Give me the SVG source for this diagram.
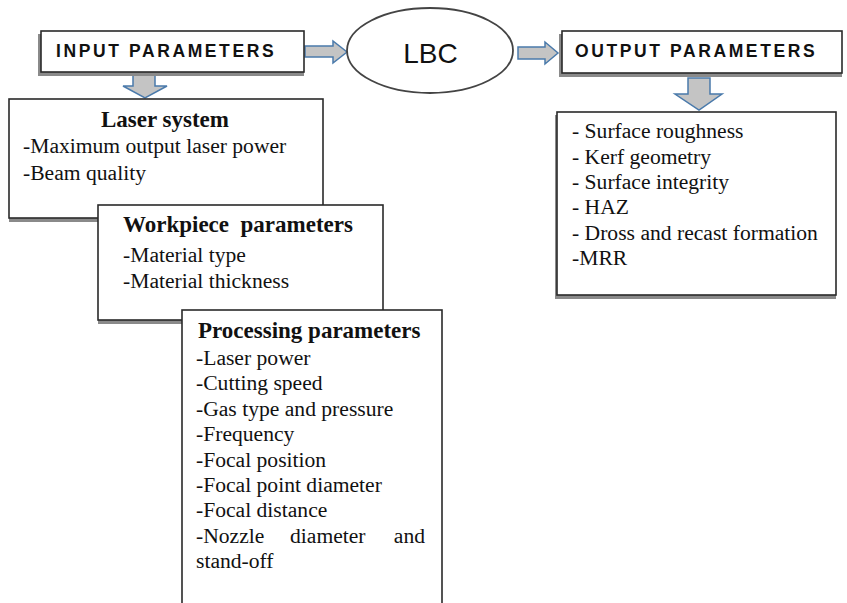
<svg xmlns="http://www.w3.org/2000/svg" width="847" height="603" viewBox="0 0 847 603">
<style>
.box{fill:#fff;stroke:#2a2a2a;stroke-width:1.6}
.sh{fill:#8a8a8a}
.arr{fill:#c4c4c4;stroke:#4a7aab;stroke-width:1.5;stroke-linejoin:miter}
.hd{font-family:"Liberation Sans",Arial,sans-serif;font-weight:bold;font-size:17.5px;letter-spacing:2.6px;fill:#111}
.t{font-family:"Liberation Serif","Times New Roman",serif;font-size:21.6px;fill:#111}
.tb{font-family:"Liberation Serif","Times New Roman",serif;font-size:23px;font-weight:bold;fill:#111}
</style>
<rect width="847" height="603" fill="#fff"/>
<g id="connectors">
<path class="arr" d="M305,46 H333 V41 L347,52 L333,63 V57 H305 Z"/>
<path class="arr" d="M518,47 H545 V42 L558,53 L545,64 V59 H518 Z"/>
<path class="arr" d="M133,74 H155 V86 H167 L145,98 L123,86 H133 Z"/>
<path class="arr" d="M688,78 H710 V94 H722 L699,110 L675,94 H688 Z"/>
</g>
<g id="input-parameters">
<rect class="sh" x="38" y="34" width="266" height="42"/>
<rect class="box" x="41" y="31" width="263" height="41"/>
<text class="hd" x="56" y="57">INPUT PARAMETERS</text>
</g>
<g id="lbc">
<ellipse cx="430" cy="50.5" rx="83" ry="42.5" fill="#fff" stroke="#444" stroke-width="1.8"/>
<text x="430.5" y="63" text-anchor="middle" font-family="'Liberation Sans',Arial,sans-serif" font-size="28" fill="#111">LBC</text>
</g>
<g id="output-parameters">
<rect class="sh" x="559" y="34" width="283" height="43"/>
<rect class="box" x="562" y="31" width="280" height="42"/>
<text class="hd" x="575" y="57">OUTPUT PARAMETERS</text>
</g>
<g id="laser-system">
<rect class="sh" x="9" y="102" width="314" height="120"/>
<rect class="box" x="9" y="99" width="314" height="119"/>
<text class="tb" x="165" y="127" text-anchor="middle">Laser system</text>
<text class="t" x="23" y="153">-Maximum output laser power</text>
<text class="t" x="23" y="180">-Beam quality</text>
</g>
<g id="workpiece-parameters">
<rect class="sh" x="98" y="208" width="285" height="116"/>
<rect class="box" x="98" y="205" width="285" height="115"/>
<text class="tb" x="123" y="232" xml:space="preserve">Workpiece  parameters</text>
<text class="t" x="123" y="262">-Material type</text>
<text class="t" x="123" y="288">-Material thickness</text>
</g>
<g id="processing-parameters">
<rect class="box" x="182" y="310" width="260" height="300"/>
<text class="tb" x="198" y="338">Processing parameters</text>
<text class="t" x="196" y="365">-Laser power</text>
<text class="t" x="196" y="390">-Cutting speed</text>
<text class="t" x="196" y="416">-Gas type and pressure</text>
<text class="t" x="196" y="441">-Frequency</text>
<text class="t" x="196" y="467">-Focal position</text>
<text class="t" x="196" y="492">-Focal point diameter</text>
<text class="t" x="196" y="517">-Focal distance</text>
<text class="t" y="543"><tspan x="196">-Nozzle</tspan><tspan x="290">diameter</tspan><tspan x="425" text-anchor="end">and</tspan></text>
<text class="t" x="196" y="568">stand-off</text>
</g>
<g id="output-list">
<rect class="sh" x="555" y="115" width="281" height="184"/>
<rect class="box" x="557" y="112" width="279" height="183"/>
<text class="t" x="572" y="138">- Surface roughness</text>
<text class="t" x="572" y="164">- Kerf geometry</text>
<text class="t" x="572" y="189">- Surface integrity</text>
<text class="t" x="572" y="214">- HAZ</text>
<text class="t" x="572" y="240">- Dross and recast formation</text>
<text class="t" x="572" y="265">-MRR</text>
</g>
</svg>
